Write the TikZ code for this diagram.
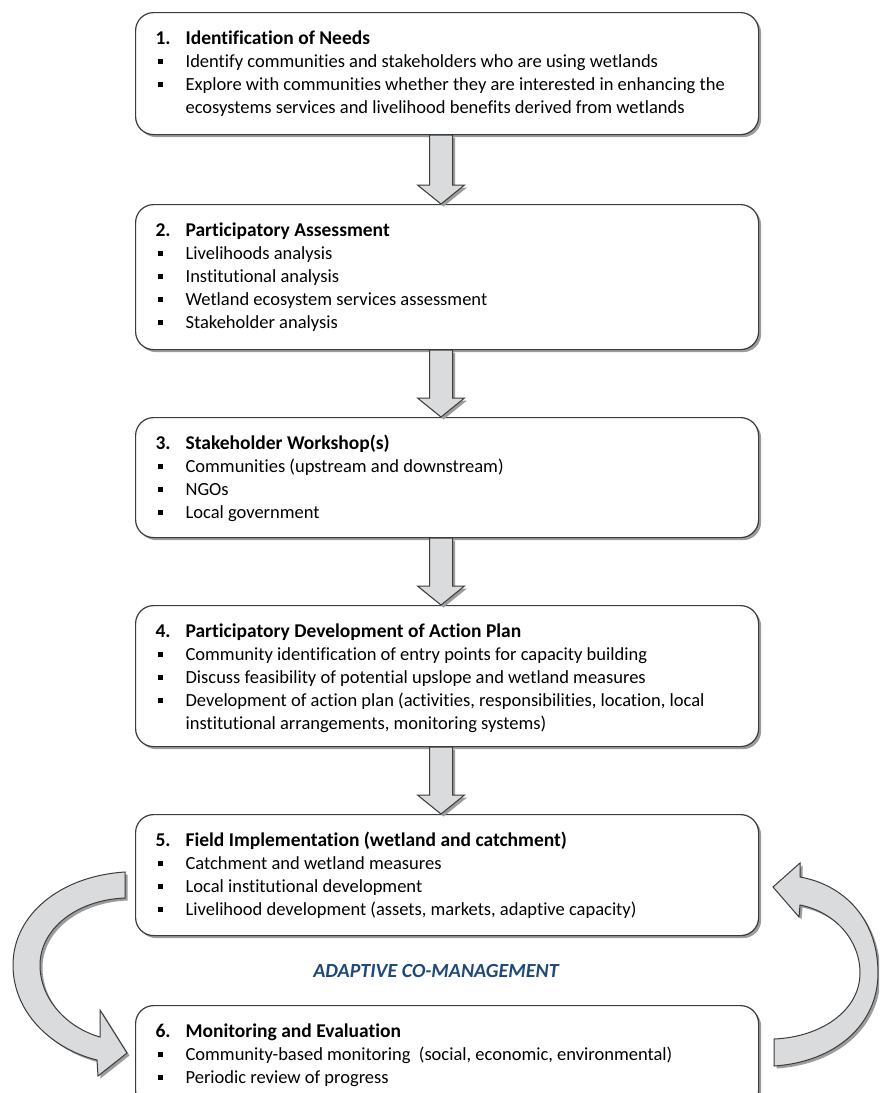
\documentclass[tikz,border=0pt]{standalone}
\usepackage{fontspec}
\setmainfont{Carlito}[RawFeature={-liga}]
\usetikzlibrary{shadows,calc}
\definecolor{edge}{HTML}{3C3C3C}
\definecolor{shade}{HTML}{9C9C9C}
\definecolor{arrowfill}{HTML}{DADBDC}
\definecolor{acmblue}{RGB}{31,73,125}
\newcommand\ttl[2]{\noindent{\fontsize{19.5}{23}\selectfont\bfseries\makebox[30pt][l]{\rule{0pt}{15pt}#1}#2}}
\newcommand\itm[1]{\par\noindent\makebox[30pt][l]{\hspace{2pt}\raisebox{3.5pt}{\rule{5pt}{5pt}}}\mbox{#1}}
\newcommand\cnt[1]{\par\noindent\hspace*{30pt}\mbox{#1}}
\newcommand\boxtext[2]{\begin{minipage}[c][#1][t]{583pt}\fontsize{18.5}{23}\selectfont\parskip=0pt\vspace*{17pt}#2\end{minipage}}
\newcommand\flowarrow[2]{%
  \path[blockarrow] let \p1=(#1.south -| ax), \p2=(#2.north -| ax) in
    (\x1-11.5pt,\y1) -- (\x1-11.5pt,\y2+19pt) -- (\x1-23.5pt,\y2+19pt) -- (\x1,\y2)
    -- (\x1+23.5pt,\y2+19pt) -- (\x1+11.5pt,\y2+19pt) -- (\x1+11.5pt,\y1) -- cycle;}
\tikzset{
  box/.style={draw=edge, line width=1.2pt, fill=white, rounded corners=18pt,
    anchor=north west, inner xsep=20pt, inner ysep=0pt,
    drop shadow={shadow xshift=2.5pt, shadow yshift=-2.5pt, fill=shade, opacity=1}},
  blockarrow/.style={draw=edge, line width=1pt, fill=arrowfill, line join=miter,
    drop shadow={shadow xshift=2.5pt, shadow yshift=-2.5pt, fill=shade, opacity=1}},
}
\begin{document}
\begin{tikzpicture}[x=1pt, y=-1pt]
\useasboundingbox (0,0) rectangle (879,1093);
\clip (0,0) rectangle (879,1093);
\fill[white] (0,0) rectangle (879,1093);
\coordinate (ax) at (441,0);

\node[box] (b1) at (135,12) {\boxtext{122pt}{\ttl{1.}{Identification of Needs}%
  \itm{Identify communities and stakeholders who are using wetlands}%
  \itm{Explore with communities whether they are interested in enhancing the}%
  \cnt{ecosystems services and livelihood benefits derived from wetlands}}};

\node[box] (b2) at (135,204) {\boxtext{145pt}{\ttl{2.}{Participatory Assessment}%
  \itm{Livelihoods analysis}%
  \itm{Institutional analysis}%
  \itm{Wetland ecosystem services assessment}%
  \itm{Stakeholder analysis}}};

\node[box] (b3) at (135,417) {\boxtext{120pt}{\ttl{3.}{Stakeholder Workshop(s)}%
  \itm{Communities (upstream and downstream)}%
  \itm{NGOs}%
  \itm{Local government}}};

\node[box] (b4) at (135,605) {\boxtext{141pt}{\ttl{4.}{Participatory Development of Action Plan}%
  \itm{Community identification of entry points for capacity building}%
  \itm{Discuss feasibility of potential upslope and wetland measures}%
  \itm{Development of action plan (activities, responsibilities, location, local}%
  \cnt{institutional arrangements, monitoring systems)}}};

\node[box] (b5) at (135,814) {\boxtext{121pt}{\ttl{5.}{Field Implementation (wetland and catchment)}%
  \itm{Catchment and wetland measures}%
  \itm{Local institutional development}%
  \itm{Livelihood development (assets, markets, adaptive capacity)}}};

\node[box] (b6) at (135,1005) {\boxtext{103pt}{\ttl{6.}{Monitoring and Evaluation}%
  \itm{Community-based monitoring\ \ (social, economic, environmental)}%
  \itm{Periodic review of progress}}};

\flowarrow{b1}{b2}
\flowarrow{b2}{b3}
\flowarrow{b3}{b4}
\flowarrow{b4}{b5}

% curved arrow: from box 5 down to box 6 (left side)
\path[blockarrow] (125,872) .. controls (60,876) and (13,915) .. (13,965)
  .. controls (13,1015) and (55,1050) .. (97,1060) -- (98,1076) -- (127,1053)
  -- (100,1010) -- (100,1037) .. controls (68,1028) and (40,1000) .. (40,965)
  .. controls (40,930) and (75,900) .. (125,898) -- cycle;

% curved arrow: from box 6 back up to box 5 (right side)
\path[blockarrow] (774,1066) .. controls (835,1062) and (878,1025) .. (878,973)
  .. controls (878,920) and (845,885) .. (800,877) -- (800,863) -- (773,887)
  -- (799,917) -- (800,905) .. controls (835,912) and (860,940) .. (860,973)
  .. controls (860,1010) and (822,1037) .. (774,1039) -- cycle;

\node[font=\fontsize{20}{24}\selectfont\bfseries\itshape, text=acmblue, inner sep=0pt] (acm) at (436,971) {ADAPTIVE CO-MANAGEMENT};
\end{tikzpicture}
\end{document}
